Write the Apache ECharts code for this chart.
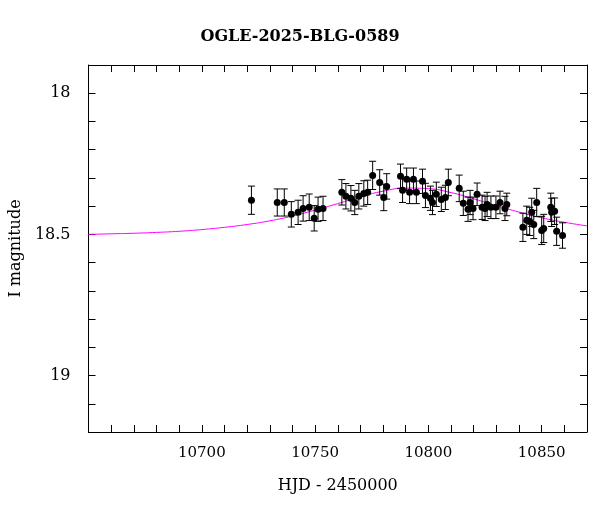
<!DOCTYPE html>
<html>
<head>
<meta charset="UTF-8">
<script src="https://cdn.jsdelivr.net/npm/echarts@6/dist/echarts.min.js"></script>
</head>
<body style="margin:0">
<div id="c" style="width:600px;height:512px;"></div>
<script>
  // observed photometry: HJD-2450000, I mag, error
  let hjd = [10721.9,10733.3,10736.4,10739.5,10742.5,10744.7,10747.4,10749.6,10751.3,10753.5,10761.8,10763.6,10765.8,10767.5,10769.3,10771.5,10773.2,10775.4,10778.5,10780.3,10781.6,10787.7,10788.6,10790.4,10791.7,10793.4,10794.7,10797.4,10798.7,10800.9,10801.8,10803.5,10805.7,10807.5,10808.8,10813.6,10815.4,10817.5,10818.4,10819.7,10821.5,10823.7,10825.0,10825.9,10827.6,10829.8,10831.6,10833.8,10834.6,10841.7,10843.4,10844.7,10845.6,10846.5,10847.8,10850.0,10850.9,10854.0,10854.4,10855.7,10856.6,10859.2]
  let mag = [18.379,18.387,18.387,18.429,18.422,18.408,18.404,18.443,18.411,18.408,18.351,18.365,18.372,18.387,18.365,18.355,18.351,18.291,18.316,18.369,18.330,18.294,18.344,18.305,18.351,18.305,18.351,18.312,18.362,18.372,18.387,18.358,18.376,18.369,18.316,18.337,18.390,18.411,18.387,18.408,18.358,18.404,18.408,18.394,18.404,18.404,18.387,18.408,18.394,18.475,18.450,18.454,18.422,18.465,18.387,18.486,18.479,18.404,18.422,18.418,18.489,18.504]
  let err = [0.05,0.048,0.048,0.045,0.043,0.045,0.047,0.045,0.043,0.043,0.045,0.045,0.045,0.043,0.045,0.045,0.043,0.05,0.045,0.047,0.045,0.043,0.043,0.04,0.04,0.04,0.04,0.043,0.043,0.043,0.043,0.043,0.043,0.043,0.047,0.047,0.043,0.043,0.043,0.04,0.04,0.043,0.043,0.043,0.04,0.04,0.04,0.043,0.04,0.05,0.05,0.05,0.05,0.05,0.05,0.05,0.05,0.05,0.05,0.047,0.05,0.045]
  // model curve
  let modelT = [10650,10660,10670,10680,10690,10700,10710,10720,10730,10740,10750,10760,10770,10780,10790,10800,10810,10820,10830,10840,10850,10860,10870]
  let modelM = [18.500,18.498,18.496,18.493,18.489,18.483,18.475,18.465,18.452,18.435,18.414,18.391,18.367,18.347,18.336,18.338,18.352,18.374,18.398,18.421,18.441,18.457,18.470]

  let font = 'DejaVu Serif'
  let pts = hjd.map((t, i) => [t, mag[i]])
  let bars = hjd.map((t, i) => [t, mag[i] - err[i], mag[i] + err[i]])
  let model = modelT.map((t, i) => [t, modelM[i]])

  let chart = echarts.init(document.getElementById('c'))
  let tickStyle = {show: true, inside: true, length: 7, lineStyle: {color: '#000'}}
  chart.setOption({
    title: {text: 'OGLE-2025-BLG-0589', left: 'center', top: 24,
      textStyle: {fontFamily: font, fontSize: 16, fontWeight: 'bold', color: '#000'}},
    grid: {left: 87, right: 13, top: 65, bottom: 80},
    xAxis: [
      {type: 'value', min: 10650, max: 10870, interval: 10, name: 'HJD - 2450000',
        nameLocation: 'middle', nameGap: 46,
        nameTextStyle: {fontFamily: font, fontSize: 16, color: '#000'},
        axisLine: {lineStyle: {color: '#000'}}, axisTick: tickStyle, splitLine: {show: false},
        axisLabel: {fontFamily: font, fontSize: 15, color: '#000', margin: 14,
          formatter: v => (v % 50 === 0 && v > 10650) ? v : ''}},
      {type: 'value', position: 'top', min: 10650, max: 10870, interval: 10,
        axisLine: {lineStyle: {color: '#000'}}, axisTick: tickStyle, axisLabel: {show: false}, splitLine: {show: false}}
    ],
    yAxis: [
      {type: 'value', inverse: true, min: 17.9, max: 19.2, interval: 0.1, name: 'I magnitude',
        nameLocation: 'middle', nameGap: 60,
        nameTextStyle: {fontFamily: font, fontSize: 16, color: '#000'},
        axisLine: {lineStyle: {color: '#000'}}, axisTick: tickStyle, splitLine: {show: false},
        axisLabel: {fontFamily: font, fontSize: 16, color: '#000', margin: 18,
          formatter: v => {
            let r = Math.round(v * 10) / 10
            return (Math.abs(r * 2 - Math.round(r * 2)) < 1e-6) ? String(r) : ''
          }}},
      {type: 'value', position: 'right', inverse: true, min: 17.9, max: 19.2, interval: 0.1,
        axisLine: {lineStyle: {color: '#000'}}, axisTick: tickStyle, axisLabel: {show: false}, splitLine: {show: false}}
    ],
    series: [
      {type: 'line', data: model, smooth: true, showSymbol: false, z: 1,
        lineStyle: {color: '#ff00ff', width: 1}},
      {type: 'custom', data: bars, z: 2,
        renderItem: (params, api) => {
          let top = api.coord([api.value(0), api.value(1)])
          let bot = api.coord([api.value(0), api.value(2)])
          let w = 3.5
          let st = {stroke: '#000', lineWidth: 1}
          return {type: 'group', children: [
            {type: 'line', shape: {x1: top[0], y1: top[1], x2: bot[0], y2: bot[1]}, style: st},
            {type: 'line', shape: {x1: top[0] - w, y1: top[1], x2: top[0] + w, y2: top[1]}, style: st},
            {type: 'line', shape: {x1: bot[0] - w, y1: bot[1], x2: bot[0] + w, y2: bot[1]}, style: st}
          ]}
        }},
      {type: 'scatter', data: pts, symbolSize: 7, z: 3, itemStyle: {color: '#000', opacity: 1}}
    ]
  })
</script>
</body>
</html>
